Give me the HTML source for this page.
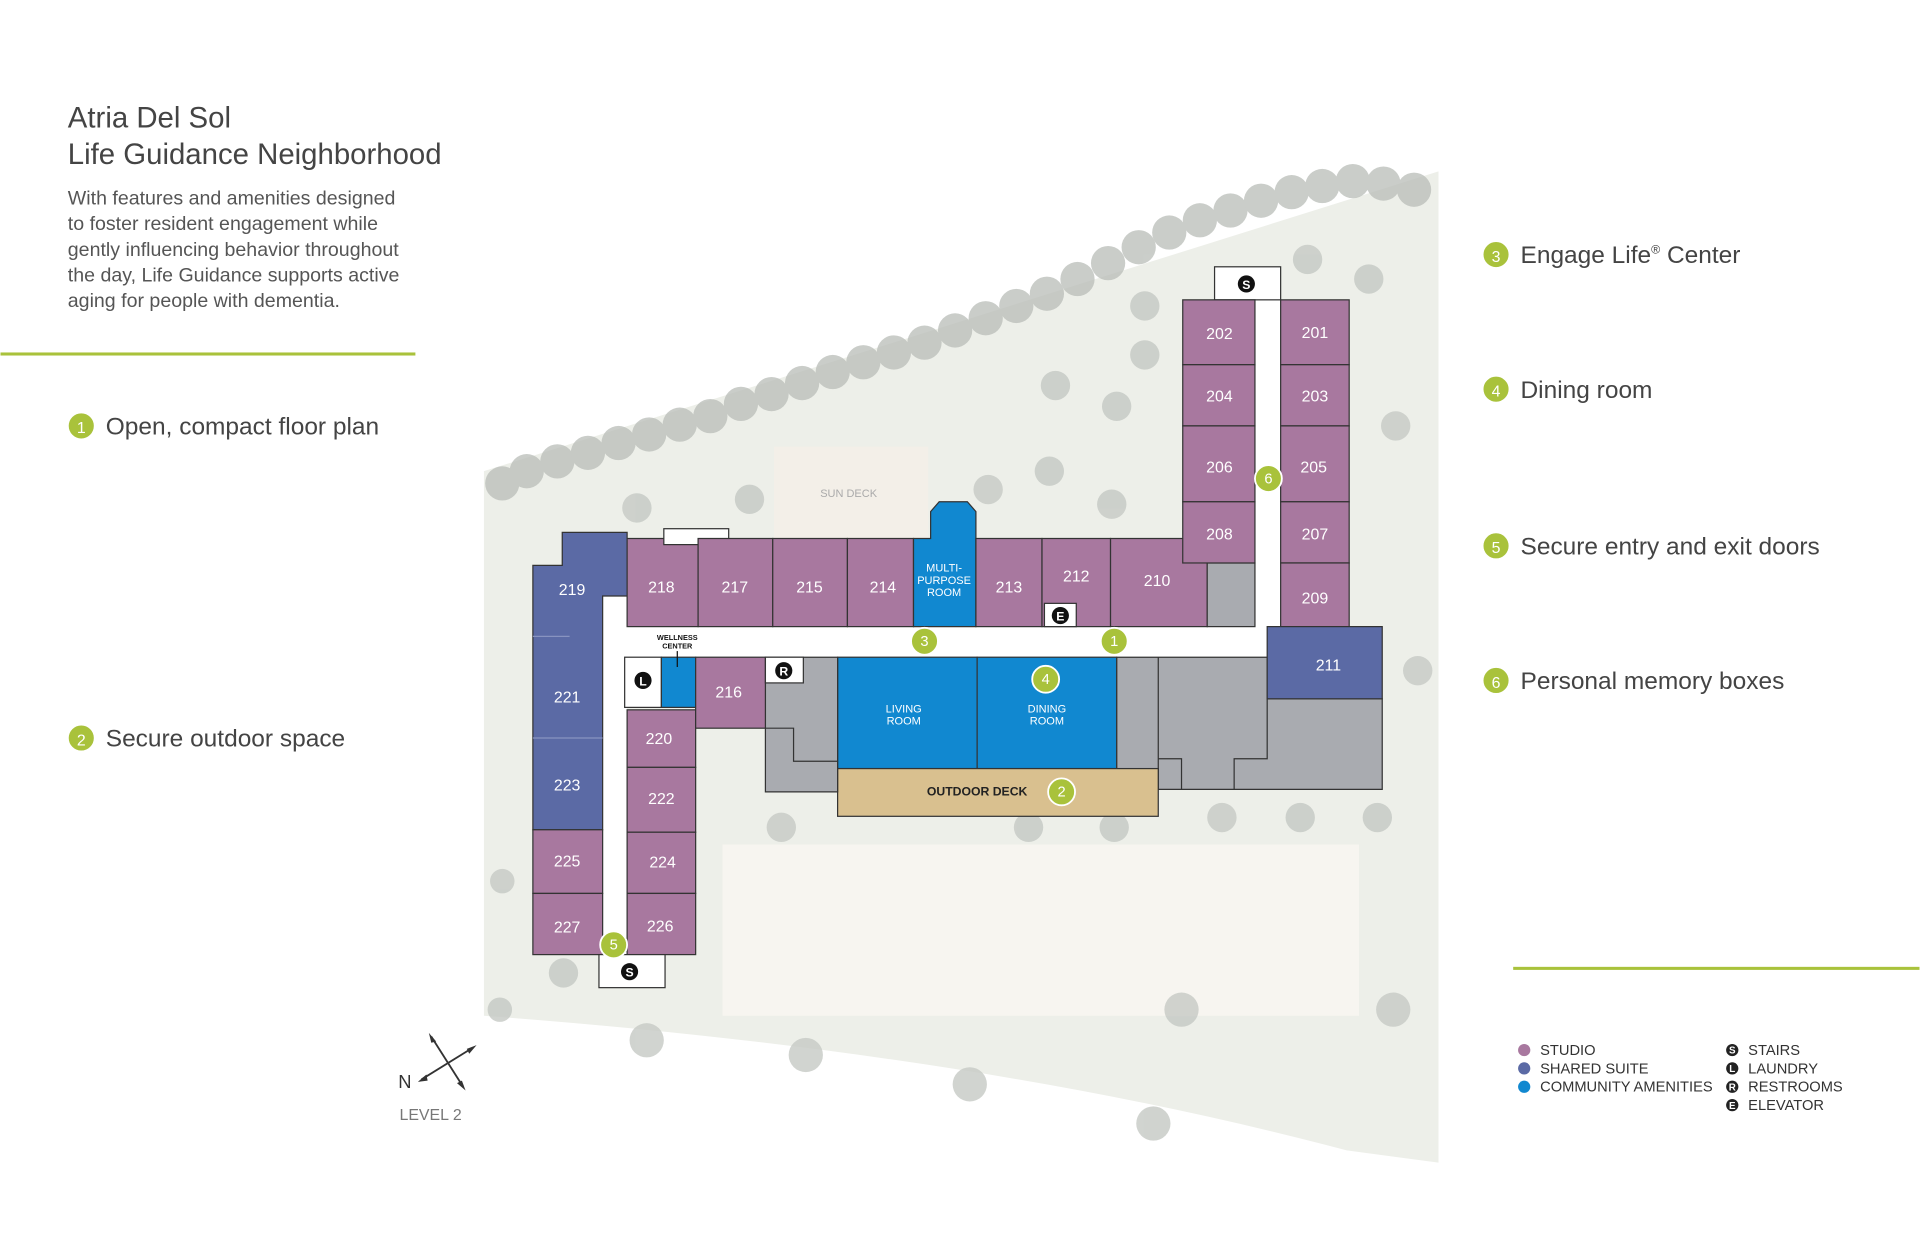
<!DOCTYPE html>
<html><head><meta charset="utf-8"><style>
html,body{margin:0;padding:0;background:#fff;width:1920px;height:1252px;overflow:hidden}
svg{display:block}
text{font-family:"Liberation Sans",sans-serif}
</style></head><body>
<svg width="1920" height="1252" viewBox="0 0 1568 1023" xmlns="http://www.w3.org/2000/svg">
<defs>
<g id="num"><circle r="11" fill="#a9c23b" stroke="#fff" stroke-width="1.5"/></g>
</defs>
<text x="55" y="104" font-size="24" fill="#444">Atria Del Sol</text>
<text x="55" y="134" font-size="24" fill="#444">Life Guidance Neighborhood</text>
<g font-size="16" fill="#555">
<text x="55" y="167">With features and amenities designed</text>
<text x="55" y="188">to foster resident engagement while</text>
<text x="55" y="209">gently influencing behavior throughout</text>
<text x="55" y="230">the day, Life Guidance supports active</text>
<text x="55" y="251">aging for people with dementia.</text>
</g>
<rect x="0" y="288" width="339" height="2.5" fill="#a9c23b"/>
<rect x="1236" y="790" width="332" height="2.5" fill="#a9c23b"/>
<g font-size="20" fill="#444">
<use href="#num" x="66" y="348"/><text x="66" y="354" font-size="13" fill="#fff" text-anchor="middle">1</text><text x="86" y="355">Open, compact floor plan</text>
<use href="#num" x="66" y="603"/><text x="66" y="609" font-size="13" fill="#fff" text-anchor="middle">2</text><text x="86" y="610">Secure outdoor space</text>
<use href="#num" x="1222" y="208"/><text x="1222" y="214" font-size="13" fill="#fff" text-anchor="middle">3</text><text x="1242" y="215">Engage Life<tspan font-size="10" dy="-8">®</tspan><tspan dy="8"> Center</tspan></text>
<use href="#num" x="1222" y="318"/><text x="1222" y="324" font-size="13" fill="#fff" text-anchor="middle">4</text><text x="1242" y="325">Dining room</text>
<use href="#num" x="1222" y="446"/><text x="1222" y="452" font-size="13" fill="#fff" text-anchor="middle">5</text><text x="1242" y="453">Secure entry and exit doors</text>
<use href="#num" x="1222" y="556"/><text x="1222" y="562" font-size="13" fill="#fff" text-anchor="middle">6</text><text x="1242" y="563">Personal memory boxes</text>
</g>
<g font-size="12" fill="#333">
<circle cx="1245" cy="858" r="5" fill="#a8789f"/><text x="1258" y="862">STUDIO</text>
<circle cx="1245" cy="873" r="5" fill="#5b6aa5"/><text x="1258" y="877">SHARED SUITE</text>
<circle cx="1245" cy="888" r="5" fill="#1188d0"/><text x="1258" y="892">COMMUNITY AMENITIES</text>
<g font-size="8" font-weight="bold" text-anchor="middle">
<circle cx="1415" cy="858" r="5" fill="#222"/><text x="1415" y="861" fill="#fff">S</text>
<circle cx="1415" cy="873" r="5" fill="#222"/><text x="1415" y="876" fill="#fff">L</text>
<circle cx="1415" cy="888" r="5" fill="#222"/><text x="1415" y="891" fill="#fff">R</text>
<circle cx="1415" cy="903" r="5" fill="#222"/><text x="1415" y="906" fill="#fff">E</text>
</g>
<text x="1428" y="862">STAIRS</text><text x="1428" y="877">LAUNDRY</text><text x="1428" y="892">RESTROOMS</text><text x="1428" y="907">ELEVATOR</text>
</g>
<g stroke="#333" stroke-width="1.5" fill="none">
<line x1="352" y1="847" x2="378" y2="888"/><line x1="344" y1="882" x2="386" y2="856"/>
</g>
<g fill="#333"><polygon points="350,844 356,851 352,852"/><polygon points="380,891 373,885 377,883"/><polygon points="341,884 348,878 349,883"/><polygon points="389,854 381,857 383,861"/></g>
<text x="325" y="889" font-size="15" fill="#333">N</text>
<text x="326" y="915" font-size="13" fill="#777">LEVEL 2</text>
<!-- site background -->
<path d="M395,385 L1175,140 L1175,950 L1100,940 Q800,860 395,830 Z" fill="#edefe9"/>
<rect x="590" y="690" width="520" height="140" fill="#f7f5f0"/>
<rect x="632" y="365" width="126" height="75" fill="#f3efe8"/>
<text x="693" y="406" font-size="9" fill="#aaa" text-anchor="middle">SUN DECK</text>
<g fill="#b9bdb8" opacity="0.75">
<circle cx="410" cy="395" r="14"/><circle cx="430" cy="385" r="14"/><circle cx="455" cy="377" r="14"/><circle cx="480" cy="370" r="14"/><circle cx="505" cy="362" r="14"/><circle cx="530" cy="355" r="14"/><circle cx="555" cy="347" r="14"/><circle cx="580" cy="340" r="14"/><circle cx="605" cy="330" r="14"/><circle cx="630" cy="322" r="14"/><circle cx="655" cy="313" r="14"/><circle cx="680" cy="304" r="14"/><circle cx="705" cy="296" r="14"/><circle cx="730" cy="288" r="14"/><circle cx="755" cy="280" r="14"/><circle cx="780" cy="270" r="14"/><circle cx="805" cy="260" r="14"/><circle cx="830" cy="250" r="14"/><circle cx="855" cy="240" r="14"/><circle cx="880" cy="228" r="14"/><circle cx="905" cy="215" r="14"/><circle cx="930" cy="202" r="14"/><circle cx="955" cy="190" r="14"/><circle cx="980" cy="180" r="14"/><circle cx="1005" cy="172" r="14"/><circle cx="1030" cy="164" r="14"/><circle cx="1055" cy="157" r="14"/><circle cx="1080" cy="152" r="14"/><circle cx="1105" cy="148" r="14"/><circle cx="1130" cy="150" r="14"/><circle cx="1155" cy="155" r="14"/>
</g>
<g fill="#c5c9c4" opacity="0.8">
<circle cx="520" cy="415" r="12"/><circle cx="612" cy="408" r="12"/><circle cx="807" cy="400" r="12"/><circle cx="857" cy="385" r="12"/><circle cx="908" cy="412" r="12"/><circle cx="862" cy="315" r="12"/><circle cx="912" cy="332" r="12"/><circle cx="935" cy="290" r="12"/><circle cx="935" cy="250" r="12"/><circle cx="1068" cy="212" r="12"/><circle cx="1118" cy="228" r="12"/><circle cx="1140" cy="348" r="12"/><circle cx="1158" cy="548" r="12"/>
<circle cx="638" cy="676" r="12"/><circle cx="840" cy="676" r="12"/><circle cx="910" cy="676" r="12"/><circle cx="998" cy="668" r="12"/><circle cx="1062" cy="668" r="12"/><circle cx="1125" cy="668" r="12"/>
<circle cx="528" cy="850" r="14"/><circle cx="658" cy="862" r="14"/><circle cx="792" cy="886" r="14"/><circle cx="942" cy="918" r="14"/><circle cx="965" cy="825" r="14"/><circle cx="1138" cy="825" r="14"/><circle cx="460" cy="795" r="12"/><circle cx="410" cy="720" r="10"/><circle cx="408" cy="825" r="10"/>
</g>
<g stroke="#333" stroke-width="1">
<rect x="492" y="487" width="20" height="293" fill="#fff" stroke="none"/>
<rect x="492" y="512" width="554" height="25" fill="#fff" stroke="none"/>
<rect x="1025" y="245" width="21" height="292" fill="#fff" stroke="none"/>
<path d="M459,435 H512 V487 H492 V678 H435 V462 H459 Z" fill="#5b6aa5"/>
<line x1="435" y1="520" x2="465" y2="520" stroke="#8893c0"/><line x1="435" y1="603" x2="492" y2="603" stroke="#8893c0"/>
<rect x="435" y="678" width="57" height="52" fill="#a8789f"/>
<rect x="435" y="730" width="57" height="50" fill="#a8789f"/>
<rect x="512" y="580" width="56" height="47" fill="#a8789f"/>
<rect x="512" y="627" width="56" height="53" fill="#a8789f"/>
<rect x="512" y="680" width="56" height="50" fill="#a8789f"/>
<rect x="512" y="730" width="56" height="50" fill="#a8789f"/>
<rect x="489" y="780" width="54" height="27" fill="#fff"/>
<rect x="512" y="440" width="58" height="72" fill="#a8789f"/>
<rect x="542" y="432" width="53" height="13" fill="#fff"/>
<rect x="570" y="440" width="61" height="72" fill="#a8789f"/>
<rect x="631" y="440" width="61" height="72" fill="#a8789f"/>
<rect x="692" y="440" width="54" height="72" fill="#a8789f"/>
<path d="M746,440 H760 V418 L767,410 H790 L797,418 V440 V512 H746 Z" fill="#1188d0"/>
<rect x="797" y="440" width="54" height="72" fill="#a8789f"/>
<rect x="851" y="440" width="56" height="72" fill="#a8789f"/>
<rect x="853" y="493" width="26" height="19" fill="#fff"/>
<rect x="907" y="440" width="79" height="72" fill="#a8789f"/>
<rect x="986" y="460" width="39" height="52" fill="#a9abb0"/>
<rect x="992" y="218" width="54" height="27" fill="#fff"/>
<rect x="966" y="245" width="59" height="53" fill="#a8789f"/>
<rect x="966" y="298" width="59" height="50" fill="#a8789f"/>
<rect x="966" y="348" width="59" height="62" fill="#a8789f"/>
<rect x="966" y="410" width="59" height="50" fill="#a8789f"/>
<rect x="1046" y="245" width="56" height="53" fill="#a8789f"/>
<rect x="1046" y="298" width="56" height="50" fill="#a8789f"/>
<rect x="1046" y="348" width="56" height="62" fill="#a8789f"/>
<rect x="1046" y="410" width="56" height="50" fill="#a8789f"/>
<rect x="1046" y="460" width="56" height="52" fill="#a8789f"/>
<path d="M912,537 H1035 V571 H1129 V645 H946 V628 H912 Z" fill="#a9abb0"/>
<rect x="1035" y="512" width="94" height="59" fill="#5b6aa5"/>
<line x1="946" y1="537" x2="946" y2="628"/>
<polyline points="946,620 965,620 965,645" fill="none"/>
<polyline points="1008,645 1008,620 1035,620 1035,571" fill="none"/>
<rect x="684" y="537" width="114" height="91" fill="#1188d0"/>
<rect x="798" y="537" width="114" height="91" fill="#1188d0"/>
<rect x="684" y="628" width="262" height="39" fill="#d9c08f"/>
<path d="M625,537 H684 V647 H625 Z" fill="#a9abb0"/>
<polyline points="625,595 648,595 648,622 684,622" fill="none"/>
<rect x="510" y="537" width="30" height="41" fill="#fff"/>
<rect x="540" y="537" width="28" height="41" fill="#1188d0"/>
<rect x="568" y="537" width="57" height="58" fill="#a8789f"/>
<rect x="625" y="537" width="31" height="21" fill="#fff"/>
</g>
<line x1="553" y1="532" x2="553" y2="545" stroke="#111"/>
<text x="553" y="523" font-size="6" font-weight="bold" text-anchor="middle" fill="#111">WELLNESS</text>
<text x="553" y="530" font-size="6" font-weight="bold" text-anchor="middle" fill="#111">CENTER</text>
<g font-size="10" font-weight="bold" text-anchor="middle">
<circle cx="1018" cy="232" r="7" fill="#111"/><text x="1018" y="236" fill="#fff">S</text>
<circle cx="514" cy="794" r="7" fill="#111"/><text x="514" y="798" fill="#fff">S</text>
<circle cx="525" cy="556" r="7" fill="#111"/><text x="525" y="560" fill="#fff">L</text>
<circle cx="640" cy="548" r="7" fill="#111"/><text x="640" y="552" fill="#fff">R</text>
<circle cx="866" cy="503" r="7" fill="#111"/><text x="866" y="507" fill="#fff">E</text>
</g>
<g font-size="13" fill="#fff" text-anchor="middle">
<text x="467" y="486">219</text><text x="463" y="574">221</text><text x="463" y="646">223</text><text x="463" y="708">225</text><text x="463" y="762">227</text>
<text x="538" y="608">220</text><text x="540" y="657">222</text><text x="541" y="709">224</text><text x="539" y="761">226</text>
<text x="540" y="484">218</text><text x="600" y="484">217</text><text x="661" y="484">215</text><text x="721" y="484">214</text><text x="824" y="484">213</text><text x="879" y="475">212</text><text x="945" y="479">210</text>
<text x="996" y="277">202</text><text x="996" y="328">204</text><text x="996" y="386">206</text><text x="996" y="441">208</text>
<text x="1074" y="276">201</text><text x="1074" y="328">203</text><text x="1073" y="386">205</text><text x="1074" y="441">207</text><text x="1074" y="493">209</text>
<text x="1085" y="548">211</text><text x="595" y="570">216</text>
</g>
<g font-size="9" fill="#fff" text-anchor="middle">
<text x="771" y="467">MULTI-</text><text x="771" y="477">PURPOSE</text><text x="771" y="487">ROOM</text>
<text x="738" y="582">LIVING</text><text x="738" y="592">ROOM</text>
<text x="855" y="582">DINING</text><text x="855" y="592">ROOM</text>
</g>
<text x="798" y="650" font-size="10" font-weight="bold" fill="#222" text-anchor="middle">OUTDOOR DECK</text>
<g font-size="12" fill="#fff" text-anchor="middle">
<use href="#num" x="755" y="524"/><text x="755" y="528">3</text>
<use href="#num" x="910" y="524"/><text x="910" y="528">1</text>
<use href="#num" x="854" y="555"/><text x="854" y="559">4</text>
<use href="#num" x="867" y="647"/><text x="867" y="651">2</text>
<use href="#num" x="1036" y="391"/><text x="1036" y="395">6</text>
<use href="#num" x="501" y="772"/><text x="501" y="776">5</text>
</g>
</svg>
</body></html>
